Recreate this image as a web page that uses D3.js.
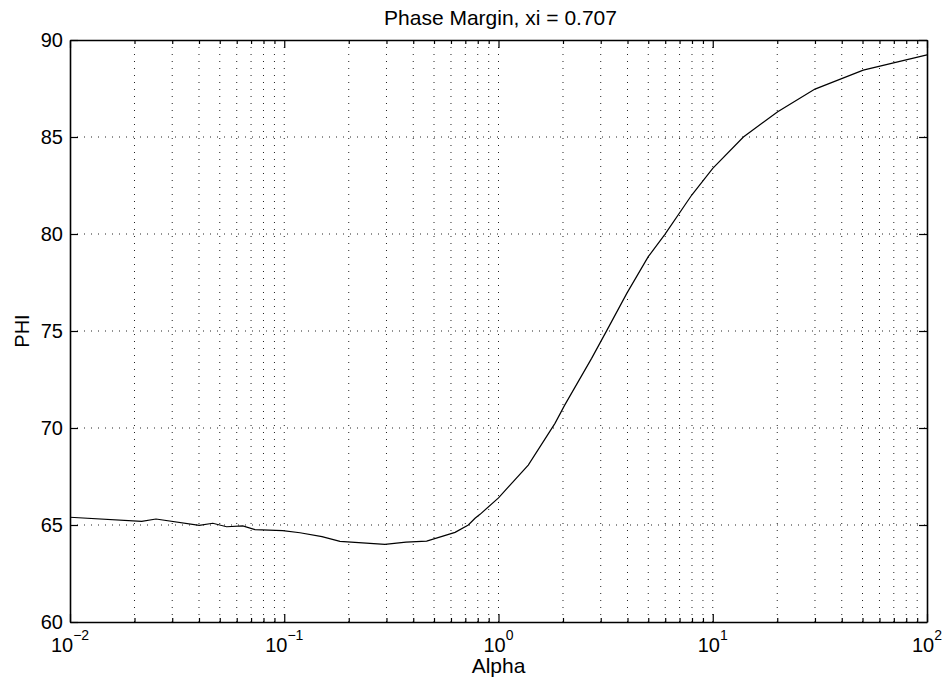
<!DOCTYPE html>
<html>
<head>
<meta charset="utf-8">
<script src="https://cdn.jsdelivr.net/npm/d3@7"></script>
<style>
  body { margin: 0; background: #fff; }
  text { font-family: "Liberation Sans", Arial, sans-serif; fill: #000; }
</style>
</head>
<body>
<div class="canvas"></div>
<script>
// data
var alpha = [0.01, 0.0216, 0.0252, 0.0401, 0.0464, 0.0538, 0.064, 0.073, 0.0984, 0.1184,
             0.15, 0.182, 0.295, 0.37, 0.462, 0.627, 0.723, 0.777, 0.82, 1.0, 1.377,
             1.835, 2.04, 2.72, 3.2, 3.97, 5.0, 5.98, 7.98, 10, 13.9, 20.1, 30, 50.4, 100]
var phi   = [65.40, 65.19, 65.31, 64.98, 65.09, 64.91, 64.95, 64.76, 64.71, 64.60,
             64.40, 64.16, 64.00, 64.12, 64.17, 64.62, 65.00, 65.35, 65.55, 66.40, 68.09,
             70.24, 71.19, 73.59, 75.02, 76.94, 78.83, 79.98, 82.01, 83.38, 85.0, 86.3, 87.47, 88.45, 89.23]

var yTicks = [60, 65, 70, 75, 80, 85, 90]
var xDecades = [-2, -1, 0, 1, 2]

var W = 951, H = 686
var margin = {left: 70, top: 40, right: 24, bottom: 64}

var svg = d3.select(".canvas").append("svg").attr("width", W).attr("height", H)

var x = d3.scaleLog().domain([0.01, 100]).range([margin.left, W - margin.right])
var y = d3.scaleLinear().domain([60, 90]).range([H - margin.bottom, margin.top])

var x0 = x.range()[0], x1 = x.range()[1]
var y0 = y.range()[0], y1 = y.range()[1]

// all minor + major log positions
var xAll = []
xDecades.forEach(function(e) {
    if (e == 2) { xAll.push(100); return }
    for (let k = 1; k <= 9; k++) xAll.push(k * Math.pow(10, e))
})

// Grid (dotted)
svg.append('g').selectAll('line').data(xAll.filter(function(v){ return v > 0.01 && v < 100 }))
    .enter().append('line')
    .attr('x1', function(d){ return x(d) }).attr('x2', function(d){ return x(d) })
    .attr('y1', y0).attr('y2', y1)
    .attr('stroke', '#222').attr('stroke-width', 1)
    .attr('stroke-dasharray', '1,6')

svg.append('g').selectAll('line').data(yTicks.filter(function(v){ return v > 60 && v < 90 }))
    .enter().append('line')
    .attr('x1', x0).attr('x2', x1)
    .attr('y1', function(d){ return y(d) }).attr('y2', function(d){ return y(d) })
    .attr('stroke', '#222').attr('stroke-width', 1)
    .attr('stroke-dasharray', '1,6')

// Axes using d3 axis generators, ticks inward
function isMajor(d) { return Math.abs(Math.log10(d) - Math.round(Math.log10(d))) < 1e-9 }

var xAxisB = d3.axisBottom(x).tickValues(xAll).tickFormat('').tickSizeOuter(0)
    .tickSizeInner(0)
var gxb = svg.append('g').attr('transform', 'translate(0,' + y0 + ')').call(xAxisB)
gxb.selectAll('.tick line').attr('y2', function(d){ return isMajor(d) ? -8 : -4 })
var gxt = svg.append('g').attr('transform', 'translate(0,' + y1 + ')').call(d3.axisTop(x).tickValues(xAll).tickFormat('').tickSizeOuter(0).tickSizeInner(0))
gxt.selectAll('.tick line').attr('y2', function(d){ return isMajor(d) ? 8 : 4 })

var gyl = svg.append('g').attr('transform', 'translate(' + x0 + ',0)')
    .call(d3.axisLeft(y).tickValues(yTicks).tickSize(-8).tickSizeOuter(0).tickFormat(''))
var gyr = svg.append('g').attr('transform', 'translate(' + x1 + ',0)')
    .call(d3.axisRight(y).tickValues(yTicks).tickSize(-8).tickSizeOuter(0).tickFormat(''))

svg.selectAll('.domain').attr('stroke', '#000').attr('stroke-width', 1.6)
svg.selectAll('.tick line').attr('stroke', '#000').attr('stroke-width', 1.2)

// y tick labels
svg.append('g').selectAll('text').data(yTicks).enter().append('text')
    .attr('x', x0 - 7).attr('y', function(d){ return y(d) + 7 })
    .attr('text-anchor', 'end').attr('font-size', 20)
    .text(function(d){ return d })

// x tick labels 10^e
var xl = svg.append('g').selectAll('text').data(xDecades).enter().append('text')
    .attr('x', function(d){ return x(Math.pow(10, d)) })
    .attr('y', y0 + 30)
    .attr('text-anchor', 'middle').attr('font-size', 20)
xl.append('tspan').text('10')
xl.append('tspan').attr('dy', -12).attr('font-size', 14)
    .text(function(d){ return d < 0 ? '\u2212' + Math.abs(d) : d })

// line
var line = d3.line().x(function(d){ return x(d[0]) }).y(function(d){ return y(d[1]) })
svg.append('path').datum(d3.zip(alpha, phi))
    .attr('d', line).attr('fill', 'none').attr('stroke', '#000').attr('stroke-width', 1.2)

// labels
svg.append('text').attr('x', (x0 + x1) / 2 + 2).attr('y', 25)
    .attr('text-anchor', 'middle').attr('font-size', 21)
    .text('Phase Margin, xi = 0.707')
svg.append('text').attr('x', (x0 + x1) / 2).attr('y', 673)
    .attr('text-anchor', 'middle').attr('font-size', 21)
    .text('Alpha')
svg.append('text').attr('transform', 'translate(29,' + ((y0 + y1) / 2) + ') rotate(-90)')
    .attr('text-anchor', 'middle').attr('font-size', 20)
    .text('PHI')
</script>
</body>
</html>
